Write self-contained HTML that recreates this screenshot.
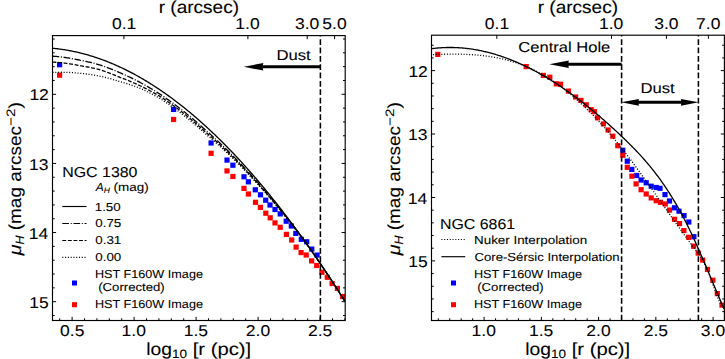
<!DOCTYPE html><html><head><meta charset="utf-8"><style>html,body{margin:0;padding:0;background:#fff;overflow:hidden}svg{display:block}text{font-family:"Liberation Sans",sans-serif;white-space:pre;text-rendering:geometricPrecision;stroke:#000;stroke-width:0.08px}</style></head><body><svg width="725" height="359" viewBox="0 0 725 359" font-family="Liberation Sans, sans-serif" fill="#000"><defs><clipPath id="c0"><rect x="52.5" y="35.6" width="292.7" height="284.9"/></clipPath><clipPath id="c1"><rect x="431.5" y="35.2" width="292.9" height="285.3"/></clipPath></defs><rect width="725" height="359" fill="#fff"/><g clip-path="url(#c0)"><rect x="57.00" y="62.10" width="5.2" height="5.2" fill="#0000ff"/><rect x="171.00" y="106.80" width="5.2" height="5.2" fill="#0000ff"/><rect x="208.50" y="140.40" width="5.2" height="5.2" fill="#0000ff"/><rect x="224.40" y="157.50" width="5.2" height="5.2" fill="#0000ff"/><rect x="230.30" y="162.60" width="5.2" height="5.2" fill="#0000ff"/><rect x="241.40" y="174.20" width="5.2" height="5.2" fill="#0000ff"/><rect x="245.80" y="179.20" width="5.2" height="5.2" fill="#0000ff"/><rect x="252.70" y="187.20" width="5.2" height="5.2" fill="#0000ff"/><rect x="257.90" y="192.20" width="5.2" height="5.2" fill="#0000ff"/><rect x="263.10" y="197.60" width="5.2" height="5.2" fill="#0000ff"/><rect x="267.40" y="202.40" width="5.2" height="5.2" fill="#0000ff"/><rect x="272.40" y="206.90" width="5.2" height="5.2" fill="#0000ff"/><rect x="277.60" y="211.30" width="5.2" height="5.2" fill="#0000ff"/><rect x="283.60" y="218.60" width="5.2" height="5.2" fill="#0000ff"/><rect x="288.70" y="223.40" width="5.2" height="5.2" fill="#0000ff"/><rect x="293.20" y="230.80" width="5.2" height="5.2" fill="#0000ff"/><rect x="298.70" y="236.70" width="5.2" height="5.2" fill="#0000ff"/><rect x="304.10" y="239.20" width="5.2" height="5.2" fill="#0000ff"/><rect x="309.20" y="246.50" width="5.2" height="5.2" fill="#0000ff"/><rect x="314.50" y="252.50" width="5.2" height="5.2" fill="#0000ff"/><rect x="57.00" y="72.60" width="5.2" height="5.2" fill="#ff0000"/><rect x="171.00" y="116.90" width="5.2" height="5.2" fill="#ff0000"/><rect x="208.50" y="150.70" width="5.2" height="5.2" fill="#ff0000"/><rect x="224.40" y="168.30" width="5.2" height="5.2" fill="#ff0000"/><rect x="230.30" y="173.90" width="5.2" height="5.2" fill="#ff0000"/><rect x="241.40" y="185.80" width="5.2" height="5.2" fill="#ff0000"/><rect x="245.80" y="191.40" width="5.2" height="5.2" fill="#ff0000"/><rect x="252.90" y="199.70" width="5.2" height="5.2" fill="#ff0000"/><rect x="257.80" y="204.80" width="5.2" height="5.2" fill="#ff0000"/><rect x="263.20" y="210.60" width="5.2" height="5.2" fill="#ff0000"/><rect x="267.60" y="215.20" width="5.2" height="5.2" fill="#ff0000"/><rect x="272.40" y="220.30" width="5.2" height="5.2" fill="#ff0000"/><rect x="277.60" y="224.70" width="5.2" height="5.2" fill="#ff0000"/><rect x="283.80" y="231.80" width="5.2" height="5.2" fill="#ff0000"/><rect x="289.10" y="237.40" width="5.2" height="5.2" fill="#ff0000"/><rect x="293.50" y="244.50" width="5.2" height="5.2" fill="#ff0000"/><rect x="298.50" y="250.00" width="5.2" height="5.2" fill="#ff0000"/><rect x="303.60" y="252.40" width="5.2" height="5.2" fill="#ff0000"/><rect x="309.00" y="258.30" width="5.2" height="5.2" fill="#ff0000"/><rect x="314.10" y="262.90" width="5.2" height="5.2" fill="#ff0000"/><rect x="319.30" y="269.70" width="5.2" height="5.2" fill="#ff0000"/><rect x="324.70" y="274.70" width="5.2" height="5.2" fill="#ff0000"/><rect x="329.50" y="280.90" width="5.2" height="5.2" fill="#ff0000"/><rect x="334.80" y="285.80" width="5.2" height="5.2" fill="#ff0000"/><rect x="339.90" y="293.90" width="5.2" height="5.2" fill="#ff0000"/><polyline points="52.50,72.46 53.48,72.41 54.46,72.38 55.43,72.35 56.41,72.32 57.39,72.30 58.37,72.28 59.35,72.27 60.33,72.27 61.30,72.27 62.28,72.27 63.26,72.28 64.24,72.30 65.22,72.32 66.20,72.35 67.17,72.38 68.15,72.42 69.13,72.46 70.11,72.51 71.09,72.56 72.07,72.62 73.04,72.68 74.02,72.75 75.00,72.83 75.98,72.91 76.96,72.99 77.93,73.08 78.91,73.18 79.89,73.28 80.87,73.37 81.85,73.47 82.83,73.57 83.80,73.67 84.78,73.78 85.76,73.90 86.74,74.02 87.72,74.15 88.70,74.28 89.67,74.42 90.65,74.56 91.63,74.71 92.61,74.86 93.59,75.02 94.57,75.18 95.54,75.35 96.52,75.53 97.50,75.71 98.48,75.89 99.46,76.08 100.43,76.28 101.41,76.50 102.39,76.73 103.37,76.96 104.35,77.19 105.33,77.44 106.30,77.68 107.28,77.93 108.26,78.19 109.24,78.45 110.22,78.72 111.20,78.99 112.17,79.27 113.15,79.55 114.13,79.83 115.11,80.13 116.09,80.42 117.07,80.73 118.04,81.04 119.02,81.35 120.00,81.67 120.98,81.94 121.96,82.21 122.93,82.49 123.91,82.78 124.89,83.07 125.87,83.36 126.85,83.66 127.83,83.97 128.80,84.28 129.78,84.60 130.76,84.92 131.74,85.24 132.72,85.58 133.70,85.91 134.67,86.25 135.65,86.60 136.63,86.95 137.61,87.31 138.59,87.67 139.57,88.04 140.54,88.45 141.52,88.91 142.50,89.37 143.48,89.84 144.46,90.31 145.43,90.78 146.41,91.26 147.39,91.75 148.37,92.24 149.35,92.74 150.33,93.24 151.30,93.75 152.28,94.26 153.26,94.77 154.24,95.30 155.22,95.82 156.20,96.35 157.17,96.89 158.15,97.43 159.13,97.98 160.11,98.54 161.09,99.18 162.07,99.83 163.04,100.48 164.02,101.13 165.00,101.80 165.98,102.46 166.96,103.13 167.93,103.81 168.91,104.49 169.89,105.18 170.87,105.87 171.85,106.56 172.83,107.26 173.80,107.97 174.78,108.68 175.76,109.40 176.74,110.12 177.72,110.85 178.70,111.58 179.67,112.31 180.65,113.05 181.63,113.80 182.61,114.55 183.59,115.31 184.57,116.07 185.54,116.84 186.52,117.63 187.50,118.41 188.48,119.21 189.46,120.01 190.43,120.81 191.41,121.62 192.39,122.44 193.37,123.26 194.35,124.08 195.33,124.91 196.30,125.74 197.28,126.58 198.26,127.42 199.24,128.27 200.22,129.13 201.20,129.99 202.17,130.85 203.15,131.72 204.13,132.59 205.11,133.46 206.09,134.27 207.07,135.09 208.04,135.92 209.02,136.75 210.00,137.58 210.98,138.42 211.96,139.26 212.93,140.11 213.91,140.97 214.89,141.82 215.87,142.69 216.85,143.56 217.83,144.43 218.80,145.31 219.78,146.19 220.76,147.08 221.74,147.97 222.72,148.87 223.70,149.77 224.67,150.67 225.65,151.59 226.63,152.50 227.61,153.42 228.59,154.35 229.57,155.28 230.54,156.22 231.52,157.16 232.50,158.11 233.48,159.07 234.46,160.03 235.43,160.99 236.41,161.96 237.39,162.94 238.37,163.92 239.35,164.90 240.33,165.89 241.30,166.88 242.28,167.88 243.26,168.88 244.24,169.89 245.22,170.90 246.20,171.92 247.17,172.94 248.15,173.97 249.13,175.00 250.11,176.04 251.09,177.08 252.07,178.12 253.04,179.17 254.02,180.23 255.00,181.29 255.98,182.35 256.96,183.42 257.93,184.50 258.91,185.58 259.89,186.66 260.87,187.75 261.85,188.84 262.83,189.94 263.80,191.04 264.78,192.15 265.76,193.26 266.74,194.38 267.72,195.50 268.70,196.63 269.67,197.76 270.65,198.89 271.63,200.03 272.61,201.18 273.59,202.33 274.57,203.48 275.54,204.64 276.52,205.80 277.50,206.97 278.48,208.14 279.46,209.32 280.43,210.50 281.41,211.69 282.39,212.88 283.37,214.08 284.35,215.28 285.33,216.48 286.30,217.69 287.28,218.91 288.26,220.13 289.24,221.35 290.22,222.58 291.20,223.82 292.17,225.07 293.15,226.32 294.13,227.58 295.11,228.84 296.09,230.11 297.07,231.38 298.04,232.65 299.02,233.93 300.00,235.22 300.98,236.51 301.96,237.80 302.93,239.10 303.91,240.40 304.89,241.71 305.87,243.02 306.85,244.34 307.83,245.66 308.80,246.98 309.78,248.31 310.76,249.70 311.74,251.10 312.72,252.51 313.70,253.92 314.67,255.34 315.65,256.76 316.63,258.18 317.61,259.61 318.59,261.05 319.57,262.49 320.54,263.93 321.52,265.38 322.50,266.83 323.48,268.29 324.46,269.75 325.43,271.22 326.41,272.69 327.39,274.16 328.37,275.64 329.35,277.13 330.33,278.62 331.30,280.11 332.28,281.61 333.26,283.11 334.24,284.62 335.22,286.13 336.20,287.65 337.17,289.17 338.15,290.69 339.13,292.22 340.11,293.75 341.09,295.29 342.07,296.84 343.04,298.38 344.02,299.93 345.00,301.49" fill="none" stroke="#000" stroke-width="1.3" stroke-dasharray="1.05,1.73"/><polyline points="52.50,62.06 53.48,62.11 54.46,62.18 55.43,62.24 56.41,62.32 57.39,62.40 58.37,62.48 59.35,62.57 60.33,62.66 61.30,62.76 62.28,62.87 63.26,62.98 64.24,63.09 65.22,63.21 66.20,63.34 67.17,63.47 68.15,63.61 69.13,63.75 70.11,63.90 71.09,64.05 72.07,64.21 73.04,64.37 74.02,64.54 75.00,64.72 75.98,64.90 76.96,65.08 77.93,65.27 78.91,65.47 79.89,65.67 80.87,65.82 81.85,65.98 82.83,66.14 83.80,66.30 84.78,66.47 85.76,66.65 86.74,66.83 87.72,67.01 88.70,67.20 89.67,67.40 90.65,67.60 91.63,67.81 92.61,68.02 93.59,68.24 94.57,68.46 95.54,68.69 96.52,68.92 97.50,69.16 98.48,69.40 99.46,69.65 100.43,69.93 101.41,70.25 102.39,70.58 103.37,70.91 104.35,71.25 105.33,71.59 106.30,71.94 107.28,72.30 108.26,72.66 109.24,73.02 110.22,73.39 111.20,73.76 112.17,74.14 113.15,74.53 114.13,74.92 115.11,75.31 116.09,75.71 117.07,76.12 118.04,76.53 119.02,76.95 120.00,77.37 120.98,77.73 121.96,78.09 122.93,78.46 123.91,78.83 124.89,79.21 125.87,79.59 126.85,79.98 127.83,80.37 128.80,80.77 129.78,81.18 130.76,81.59 131.74,82.00 132.72,82.42 133.70,82.84 134.67,83.27 135.65,83.71 136.63,84.15 137.61,84.59 138.59,85.04 139.57,85.50 140.54,85.97 141.52,86.44 142.50,86.92 143.48,87.41 144.46,87.90 145.43,88.39 146.41,88.89 147.39,89.40 148.37,89.91 149.35,90.43 150.33,90.95 151.30,91.47 152.28,92.00 153.26,92.54 154.24,93.08 155.22,93.63 156.20,94.18 157.17,94.73 158.15,95.30 159.13,95.86 160.11,96.44 161.09,97.09 162.07,97.74 163.04,98.39 164.02,99.05 165.00,99.72 165.98,100.39 166.96,101.06 167.93,101.74 168.91,102.43 169.89,103.12 170.87,103.81 171.85,104.51 172.83,105.22 173.80,105.93 174.78,106.64 175.76,107.36 176.74,108.09 177.72,108.82 178.70,109.55 179.67,110.29 180.65,111.04 181.63,111.79 182.61,112.54 183.59,113.30 184.57,114.07 185.54,114.85 186.52,115.64 187.50,116.44 188.48,117.24 189.46,118.05 190.43,118.87 191.41,119.69 192.39,120.51 193.37,121.34 194.35,122.17 195.33,123.01 196.30,123.86 197.28,124.70 198.26,125.56 199.24,126.42 200.22,127.28 201.20,128.15 202.17,129.02 203.15,129.90 204.13,130.78 205.11,131.66 206.09,132.50 207.07,133.34 208.04,134.18 209.02,135.03 210.00,135.88 210.98,136.74 211.96,137.60 212.93,138.47 213.91,139.34 214.89,140.22 215.87,141.10 216.85,141.99 217.83,142.88 218.80,143.78 219.78,144.68 220.76,145.59 221.74,146.50 222.72,147.42 223.70,148.34 224.67,149.27 225.65,150.20 226.63,151.13 227.61,152.08 228.59,153.02 229.57,153.97 230.54,154.93 231.52,155.89 232.50,156.86 233.48,157.84 234.46,158.82 235.43,159.80 236.41,160.79 237.39,161.79 238.37,162.78 239.35,163.79 240.33,164.80 241.30,165.81 242.28,166.83 243.26,167.85 244.24,168.88 245.22,169.91 246.20,170.94 247.17,171.99 248.15,173.03 249.13,174.08 250.11,175.14 251.09,176.19 252.07,177.26 253.04,178.32 254.02,179.39 255.00,180.47 255.98,181.54 256.96,182.63 257.93,183.72 258.91,184.81 259.89,185.91 260.87,187.01 261.85,188.12 262.83,189.23 263.80,190.35 264.78,191.47 265.76,192.60 266.74,193.73 267.72,194.87 268.70,196.01 269.67,197.15 270.65,198.30 271.63,199.46 272.61,200.62 273.59,201.78 274.57,202.95 275.54,204.12 276.52,205.30 277.50,206.48 278.48,207.67 279.46,208.86 280.43,210.06 281.41,211.26 282.39,212.47 283.37,213.68 284.35,214.89 285.33,216.11 286.30,217.34 287.28,218.57 288.26,219.80 289.24,221.04 290.22,222.28 291.20,223.54 292.17,224.80 293.15,226.07 294.13,227.34 295.11,228.62 296.09,229.90 297.07,231.18 298.04,232.47 299.02,233.77 300.00,235.07 300.98,236.37 301.96,237.68 302.93,238.99 303.91,240.31 304.89,241.63 305.87,242.96 306.85,244.29 307.83,245.63 308.80,246.97 309.78,248.31 310.76,249.70 311.74,251.10 312.72,252.51 313.70,253.92 314.67,255.34 315.65,256.76 316.63,258.18 317.61,259.61 318.59,261.05 319.57,262.49 320.54,263.93 321.52,265.38 322.50,266.83 323.48,268.29 324.46,269.75 325.43,271.22 326.41,272.69 327.39,274.16 328.37,275.64 329.35,277.13 330.33,278.62 331.30,280.11 332.28,281.61 333.26,283.11 334.24,284.62 335.22,286.13 336.20,287.65 337.17,289.17 338.15,290.69 339.13,292.22 340.11,293.75 341.09,295.29 342.07,296.84 343.04,298.38 344.02,299.93 345.00,301.49" fill="none" stroke="#000" stroke-width="1.3" stroke-dasharray="3.9,1.68"/><polyline points="52.50,56.16 53.48,56.23 54.46,56.30 55.43,56.39 56.41,56.47 57.39,56.57 58.37,56.66 59.35,56.77 60.33,56.88 61.30,56.99 62.28,57.11 63.26,57.23 64.24,57.36 65.22,57.50 66.20,57.64 67.17,57.79 68.15,57.94 69.13,58.09 70.11,58.26 71.09,58.42 72.07,58.60 73.04,58.77 74.02,58.96 75.00,59.15 75.98,59.34 76.96,59.54 77.93,59.74 78.91,59.95 79.89,60.17 80.87,60.35 81.85,60.54 82.83,60.74 83.80,60.93 84.78,61.14 85.76,61.35 86.74,61.56 87.72,61.78 88.70,62.01 89.67,62.24 90.65,62.47 91.63,62.71 92.61,62.96 93.59,63.21 94.57,63.47 95.54,63.73 96.52,64.00 97.50,64.27 98.48,64.55 99.46,64.83 100.43,65.13 101.41,65.47 102.39,65.80 103.37,66.15 104.35,66.49 105.33,66.85 106.30,67.21 107.28,67.57 108.26,67.94 109.24,68.31 110.22,68.69 111.20,69.08 112.17,69.47 113.15,69.86 114.13,70.26 115.11,70.66 116.09,71.07 117.07,71.49 118.04,71.91 119.02,72.34 120.00,72.77 120.98,73.19 121.96,73.62 122.93,74.05 123.91,74.48 124.89,74.93 125.87,75.37 126.85,75.83 127.83,76.28 128.80,76.75 129.78,77.21 130.76,77.69 131.74,78.16 132.72,78.65 133.70,79.13 134.67,79.63 135.65,80.13 136.63,80.63 137.61,81.14 138.59,81.65 139.57,82.17 140.54,82.70 141.52,83.22 142.50,83.76 143.48,84.30 144.46,84.84 145.43,85.39 146.41,85.95 147.39,86.50 148.37,87.07 149.35,87.64 150.33,88.21 151.30,88.79 152.28,89.38 153.26,89.97 154.24,90.56 155.22,91.16 156.20,91.77 157.17,92.38 158.15,92.99 159.13,93.61 160.11,94.24 161.09,94.89 162.07,95.55 163.04,96.21 164.02,96.88 165.00,97.56 165.98,98.23 166.96,98.92 167.93,99.60 168.91,100.30 169.89,101.00 170.87,101.70 171.85,102.41 172.83,103.12 173.80,103.84 174.78,104.56 175.76,105.29 176.74,106.02 177.72,106.76 178.70,107.50 179.67,108.25 180.65,109.00 181.63,109.76 182.61,110.52 183.59,111.29 184.57,112.06 185.54,112.85 186.52,113.64 187.50,114.44 188.48,115.24 189.46,116.05 190.43,116.87 191.41,117.69 192.39,118.51 193.37,119.34 194.35,120.17 195.33,121.01 196.30,121.86 197.28,122.70 198.26,123.56 199.24,124.42 200.22,125.28 201.20,126.15 202.17,127.02 203.15,127.90 204.13,128.78 205.11,129.66 206.09,130.52 207.07,131.38 208.04,132.24 209.02,133.11 210.00,133.98 210.98,134.86 211.96,135.74 212.93,136.63 213.91,137.52 214.89,138.42 215.87,139.32 216.85,140.23 217.83,141.14 218.80,142.06 219.78,142.98 220.76,143.91 221.74,144.84 222.72,145.77 223.70,146.72 224.67,147.66 225.65,148.61 226.63,149.57 227.61,150.53 228.59,151.49 229.57,152.46 230.54,153.44 231.52,154.42 232.50,155.40 233.48,156.39 234.46,157.39 235.43,158.38 236.41,159.39 237.39,160.40 238.37,161.41 239.35,162.43 240.33,163.45 241.30,164.48 242.28,165.51 243.26,166.55 244.24,167.59 245.22,168.64 246.20,169.69 247.17,170.74 248.15,171.81 249.13,172.87 250.11,173.94 251.09,175.02 252.07,176.10 253.04,177.18 254.02,178.27 255.00,179.37 255.98,180.46 256.96,181.57 257.93,182.68 258.91,183.79 259.89,184.91 260.87,186.03 261.85,187.16 262.83,188.29 263.80,189.43 264.78,190.57 265.76,191.71 266.74,192.86 267.72,194.02 268.70,195.18 269.67,196.34 270.65,197.51 271.63,198.69 272.61,199.87 273.59,201.05 274.57,202.24 275.54,203.43 276.52,204.63 277.50,205.83 278.48,207.04 279.46,208.25 280.43,209.47 281.41,210.69 282.39,211.91 283.37,213.14 284.35,214.38 285.33,215.62 286.30,216.86 287.28,218.11 288.26,219.37 289.24,220.62 290.22,221.89 291.20,223.17 292.17,224.45 293.15,225.73 294.13,227.03 295.11,228.32 296.09,229.62 297.07,230.93 298.04,232.24 299.02,233.55 300.00,234.87 300.98,236.19 301.96,237.52 302.93,238.85 303.91,240.19 304.89,241.53 305.87,242.88 306.85,244.23 307.83,245.58 308.80,246.94 309.78,248.31 310.76,249.70 311.74,251.10 312.72,252.51 313.70,253.92 314.67,255.34 315.65,256.76 316.63,258.18 317.61,259.61 318.59,261.05 319.57,262.49 320.54,263.93 321.52,265.38 322.50,266.83 323.48,268.29 324.46,269.75 325.43,271.22 326.41,272.69 327.39,274.16 328.37,275.64 329.35,277.13 330.33,278.62 331.30,280.11 332.28,281.61 333.26,283.11 334.24,284.62 335.22,286.13 336.20,287.65 337.17,289.17 338.15,290.69 339.13,292.22 340.11,293.75 341.09,295.29 342.07,296.84 343.04,298.38 344.02,299.93 345.00,301.49" fill="none" stroke="#000" stroke-width="1.3" stroke-dasharray="6.7,1.68,1.05,1.68"/><polyline points="52.50,48.26 53.48,48.35 54.46,48.45 55.43,48.55 56.41,48.66 57.39,48.77 58.37,48.89 59.35,49.02 60.33,49.15 61.30,49.28 62.28,49.42 63.26,49.57 64.24,49.72 65.22,49.88 66.20,50.04 67.17,50.21 68.15,50.38 69.13,50.56 70.11,50.74 71.09,50.93 72.07,51.12 73.04,51.32 74.02,51.53 75.00,51.74 75.98,51.95 76.96,52.17 77.93,52.40 78.91,52.63 79.89,52.86 80.87,53.11 81.85,53.35 82.83,53.61 83.80,53.86 84.78,54.13 85.76,54.39 86.74,54.67 87.72,54.94 88.70,55.23 89.67,55.52 90.65,55.81 91.63,56.11 92.61,56.42 93.59,56.73 94.57,57.04 95.54,57.36 96.52,57.69 97.50,58.02 98.48,58.35 99.46,58.70 100.43,59.04 101.41,59.39 102.39,59.75 103.37,60.11 104.35,60.48 105.33,60.85 106.30,61.23 107.28,61.62 108.26,62.00 109.24,62.40 110.22,62.80 111.20,63.20 112.17,63.61 113.15,64.02 114.13,64.44 115.11,64.87 116.09,65.30 117.07,65.73 118.04,66.17 119.02,66.62 120.00,67.07 120.98,67.52 121.96,67.98 122.93,68.45 123.91,68.92 124.89,69.40 125.87,69.88 126.85,70.36 127.83,70.86 128.80,71.35 129.78,71.86 130.76,72.36 131.74,72.87 132.72,73.39 133.70,73.91 134.67,74.44 135.65,74.97 136.63,75.51 137.61,76.05 138.59,76.60 139.57,77.16 140.54,77.71 141.52,78.28 142.50,78.85 143.48,79.42 144.46,80.00 145.43,80.58 146.41,81.17 147.39,81.76 148.37,82.36 149.35,82.97 150.33,83.58 151.30,84.19 152.28,84.81 153.26,85.43 154.24,86.06 155.22,86.70 156.20,87.34 157.17,87.98 158.15,88.63 159.13,89.28 160.11,89.94 161.09,90.61 162.07,91.28 163.04,91.95 164.02,92.63 165.00,93.32 165.98,94.01 166.96,94.70 167.93,95.40 168.91,96.10 169.89,96.81 170.87,97.53 171.85,98.25 172.83,98.97 173.80,99.70 174.78,100.44 175.76,101.18 176.74,101.92 177.72,102.67 178.70,103.43 179.67,104.18 180.65,104.95 181.63,105.72 182.61,106.49 183.59,107.27 184.57,108.06 185.54,108.85 186.52,109.64 187.50,110.44 188.48,111.24 189.46,112.05 190.43,112.87 191.41,113.69 192.39,114.51 193.37,115.34 194.35,116.17 195.33,117.01 196.30,117.86 197.28,118.70 198.26,119.56 199.24,120.42 200.22,121.28 201.20,122.15 202.17,123.02 203.15,123.90 204.13,124.78 205.11,125.67 206.09,126.56 207.07,127.46 208.04,128.36 209.02,129.27 210.00,130.18 210.98,131.10 211.96,132.02 212.93,132.95 213.91,133.88 214.89,134.82 215.87,135.76 216.85,136.70 217.83,137.65 218.80,138.61 219.78,139.57 220.76,140.54 221.74,141.51 222.72,142.48 223.70,143.46 224.67,144.45 225.65,145.44 226.63,146.43 227.61,147.43 228.59,148.44 229.57,149.45 230.54,150.46 231.52,151.48 232.50,152.50 233.48,153.53 234.46,154.56 235.43,155.60 236.41,156.64 237.39,157.69 238.37,158.74 239.35,159.80 240.33,160.86 241.30,161.93 242.28,163.00 243.26,164.08 244.24,165.16 245.22,166.25 246.20,167.34 247.17,168.43 248.15,169.53 249.13,170.64 250.11,171.75 251.09,172.86 252.07,173.98 253.04,175.10 254.02,176.23 255.00,177.37 255.98,178.50 256.96,179.65 257.93,180.79 258.91,181.95 259.89,183.10 260.87,184.26 261.85,185.43 262.83,186.60 263.80,187.78 264.78,188.96 265.76,190.14 266.74,191.33 267.72,192.53 268.70,193.73 269.67,194.93 270.65,196.14 271.63,197.35 272.61,198.57 273.59,199.79 274.57,201.02 275.54,202.25 276.52,203.49 277.50,204.73 278.48,205.98 279.46,207.23 280.43,208.49 281.41,209.75 282.39,211.01 283.37,212.28 284.35,213.55 285.33,214.83 286.30,216.12 287.28,217.40 288.26,218.70 289.24,219.99 290.22,221.30 291.20,222.60 292.17,223.91 293.15,225.23 294.13,226.55 295.11,227.87 296.09,229.20 297.07,230.54 298.04,231.88 299.02,233.22 300.00,234.57 300.98,235.92 301.96,237.28 302.93,238.64 303.91,240.01 304.89,241.38 305.87,242.75 306.85,244.13 307.83,245.52 308.80,246.91 309.78,248.30 310.76,249.70 311.74,251.10 312.72,252.51 313.70,253.92 314.67,255.34 315.65,256.76 316.63,258.18 317.61,259.61 318.59,261.05 319.57,262.49 320.54,263.93 321.52,265.38 322.50,266.83 323.48,268.29 324.46,269.75 325.43,271.22 326.41,272.69 327.39,274.16 328.37,275.64 329.35,277.13 330.33,278.62 331.30,280.11 332.28,281.61 333.26,283.11 334.24,284.62 335.22,286.13 336.20,287.65 337.17,289.17 338.15,290.69 339.13,292.22 340.11,293.75 341.09,295.29 342.07,296.84 343.04,298.38 344.02,299.93 345.00,301.49" fill="none" stroke="#000" stroke-width="1.3"/></g><g clip-path="url(#c1)"><rect x="620.20" y="147.70" width="5.2" height="5.2" fill="#0000ff"/><rect x="624.70" y="158.60" width="5.2" height="5.2" fill="#0000ff"/><rect x="629.20" y="166.80" width="5.2" height="5.2" fill="#0000ff"/><rect x="634.10" y="172.90" width="5.2" height="5.2" fill="#0000ff"/><rect x="638.50" y="177.40" width="5.2" height="5.2" fill="#0000ff"/><rect x="643.60" y="180.20" width="5.2" height="5.2" fill="#0000ff"/><rect x="648.60" y="183.60" width="5.2" height="5.2" fill="#0000ff"/><rect x="653.60" y="184.90" width="5.2" height="5.2" fill="#0000ff"/><rect x="657.40" y="185.70" width="5.2" height="5.2" fill="#0000ff"/><rect x="662.40" y="192.00" width="5.2" height="5.2" fill="#0000ff"/><rect x="666.90" y="198.40" width="5.2" height="5.2" fill="#0000ff"/><rect x="671.90" y="205.20" width="5.2" height="5.2" fill="#0000ff"/><rect x="676.40" y="208.60" width="5.2" height="5.2" fill="#0000ff"/><rect x="681.40" y="213.00" width="5.2" height="5.2" fill="#0000ff"/><rect x="686.20" y="219.40" width="5.2" height="5.2" fill="#0000ff"/><rect x="691.30" y="234.10" width="5.2" height="5.2" fill="#0000ff"/><rect x="435.20" y="51.80" width="5.2" height="5.2" fill="#ff0000"/><rect x="523.60" y="64.00" width="5.2" height="5.2" fill="#ff0000"/><rect x="540.80" y="72.80" width="5.2" height="5.2" fill="#ff0000"/><rect x="547.20" y="74.60" width="5.2" height="5.2" fill="#ff0000"/><rect x="553.70" y="81.20" width="5.2" height="5.2" fill="#ff0000"/><rect x="558.00" y="81.70" width="5.2" height="5.2" fill="#ff0000"/><rect x="565.80" y="88.50" width="5.2" height="5.2" fill="#ff0000"/><rect x="573.00" y="94.40" width="5.2" height="5.2" fill="#ff0000"/><rect x="578.30" y="97.80" width="5.2" height="5.2" fill="#ff0000"/><rect x="583.60" y="102.20" width="5.2" height="5.2" fill="#ff0000"/><rect x="588.60" y="107.10" width="5.2" height="5.2" fill="#ff0000"/><rect x="591.90" y="109.10" width="5.2" height="5.2" fill="#ff0000"/><rect x="594.90" y="115.20" width="5.2" height="5.2" fill="#ff0000"/><rect x="600.80" y="121.30" width="5.2" height="5.2" fill="#ff0000"/><rect x="605.50" y="127.40" width="5.2" height="5.2" fill="#ff0000"/><rect x="610.20" y="133.60" width="5.2" height="5.2" fill="#ff0000"/><rect x="615.20" y="143.10" width="5.2" height="5.2" fill="#ff0000"/><rect x="620.20" y="152.70" width="5.2" height="5.2" fill="#ff0000"/><rect x="624.70" y="164.70" width="5.2" height="5.2" fill="#ff0000"/><rect x="629.30" y="173.60" width="5.2" height="5.2" fill="#ff0000"/><rect x="633.50" y="181.30" width="5.2" height="5.2" fill="#ff0000"/><rect x="638.50" y="187.10" width="5.2" height="5.2" fill="#ff0000"/><rect x="643.60" y="191.40" width="5.2" height="5.2" fill="#ff0000"/><rect x="648.60" y="195.30" width="5.2" height="5.2" fill="#ff0000"/><rect x="653.60" y="198.10" width="5.2" height="5.2" fill="#ff0000"/><rect x="657.90" y="199.70" width="5.2" height="5.2" fill="#ff0000"/><rect x="662.70" y="201.40" width="5.2" height="5.2" fill="#ff0000"/><rect x="666.90" y="207.50" width="5.2" height="5.2" fill="#ff0000"/><rect x="671.90" y="216.70" width="5.2" height="5.2" fill="#ff0000"/><rect x="676.90" y="221.00" width="5.2" height="5.2" fill="#ff0000"/><rect x="681.30" y="228.00" width="5.2" height="5.2" fill="#ff0000"/><rect x="686.10" y="234.70" width="5.2" height="5.2" fill="#ff0000"/><rect x="691.00" y="243.60" width="5.2" height="5.2" fill="#ff0000"/><rect x="695.60" y="250.50" width="5.2" height="5.2" fill="#ff0000"/><rect x="700.10" y="257.50" width="5.2" height="5.2" fill="#ff0000"/><rect x="704.90" y="266.80" width="5.2" height="5.2" fill="#ff0000"/><rect x="710.20" y="277.60" width="5.2" height="5.2" fill="#ff0000"/><rect x="714.70" y="291.00" width="5.2" height="5.2" fill="#ff0000"/><rect x="719.40" y="302.50" width="5.2" height="5.2" fill="#ff0000"/><polyline points="433.00,54.58 433.91,54.55 434.82,54.52 435.74,54.48 436.65,54.45 437.56,54.42 438.47,54.39 439.39,54.37 440.30,54.34 441.21,54.31 442.12,54.29 443.03,54.27 443.95,54.25 444.86,54.23 445.77,54.21 446.68,54.19 447.60,54.18 448.51,54.17 449.42,54.16 450.33,54.15 451.24,54.14 452.16,54.14 453.07,54.13 453.98,54.13 454.89,54.13 455.81,54.14 456.72,54.15 457.63,54.15 458.54,54.17 459.45,54.18 460.37,54.20 461.28,54.22 462.19,54.24 463.10,54.27 464.02,54.29 464.93,54.32 465.84,54.36 466.75,54.40 467.66,54.44 468.58,54.48 469.49,54.53 470.40,54.58 471.31,54.63 472.23,54.69 473.14,54.75 474.05,54.81 474.96,54.88 475.87,54.95 476.79,55.03 477.70,55.11 478.61,55.19 479.52,55.28 480.44,55.37 481.35,55.46 482.26,55.56 483.17,55.67 484.08,55.78 485.00,55.89 485.91,56.00 486.82,56.13 487.73,56.25 488.65,56.38 489.56,56.52 490.47,56.66 491.38,56.80 492.29,56.95 493.21,57.11 494.12,57.27 495.03,57.43 495.94,57.60 496.86,57.77 497.77,57.95 498.68,58.14 499.59,58.33 500.50,58.53 501.42,58.73 502.33,58.93 503.24,59.15 504.15,59.37 505.07,59.59 505.98,59.82 506.89,60.06 507.80,60.30 508.71,60.55 509.63,60.80 510.54,61.06 511.45,61.33 512.36,61.60 513.28,61.88 514.19,62.16 515.10,62.45 516.01,62.75 516.92,63.06 517.84,63.37 518.75,63.68 519.66,64.01 520.57,64.34 521.49,64.68 522.40,65.02 523.31,65.38 524.22,65.74 525.13,66.10 526.05,66.48 526.96,66.86 527.87,67.25 528.78,67.64 529.70,68.04 530.61,68.46 531.52,68.87 532.43,69.30 533.34,69.73 534.26,70.17 535.17,70.62 536.08,71.08 536.99,71.55 537.91,72.02 538.82,72.50 539.73,72.99 540.64,73.49 541.55,73.99 542.47,74.51 543.38,75.03 544.29,75.56 545.20,76.10 546.12,76.64 547.03,77.20 547.94,77.76 548.85,78.33 549.76,78.91 550.68,79.50 551.59,80.09 552.50,80.70 553.41,81.31 554.33,81.92 555.24,82.55 556.15,83.19 557.06,83.83 557.97,84.48 558.89,85.14 559.80,85.80 560.71,86.48 561.62,87.16 562.54,87.85 563.45,88.54 564.36,89.25 565.27,89.96 566.18,90.68 567.10,91.41 568.01,92.14 568.92,92.89 569.83,93.64 570.75,94.40 571.66,95.16 572.57,95.94 573.48,96.72 574.39,97.51 575.31,98.30 576.22,99.10 577.13,99.92 578.04,100.73 578.96,101.56 579.87,102.39 580.78,103.23 581.69,104.08 582.61,104.94 583.52,105.80 584.43,106.67 585.34,107.55 586.25,108.43 587.17,109.32 588.08,110.22 588.99,111.13 589.90,112.04 590.82,112.96 591.73,113.89 592.64,114.82 593.55,115.76 594.46,116.71 595.38,117.67 596.29,118.63 597.20,119.60 598.11,120.58 599.03,121.56 599.94,122.55 600.85,123.55 601.76,124.56 602.67,125.57 603.59,126.59 604.50,127.61 605.41,128.64 606.32,129.68 607.24,130.73 608.15,131.78 609.06,132.84 609.97,133.91 610.88,134.98 611.80,136.06 612.71,137.15 613.62,138.24 614.53,139.34 615.45,140.45 616.36,141.56 617.27,142.68 618.18,143.80 619.09,144.94 620.01,146.08 620.92,147.22 621.83,148.37 622.74,149.53 623.66,150.70 624.57,151.87 625.48,153.05 626.39,154.23 627.30,155.42 628.22,156.62 629.13,157.82 630.04,159.02 630.95,160.23 631.87,161.45 632.78,162.67 633.69,163.89 634.60,165.12 635.51,166.36 636.43,167.60 637.34,168.84 638.25,170.09 639.16,171.34 640.08,172.59 640.99,173.85 641.90,175.11 642.81,176.38 643.72,177.64 644.64,178.91 645.55,180.19 646.46,181.46 647.37,182.74 648.29,184.02 649.20,185.31 650.11,186.59 651.02,187.88 651.93,189.17 652.85,190.46 653.76,191.75 654.67,193.04 655.58,194.33 656.50,195.63 657.41,196.92 658.32,198.22 659.23,199.52 660.14,200.81 661.06,202.11 661.97,203.41 662.88,204.70 663.79,206.00 664.71,207.30 665.62,208.59 666.53,209.89 667.44,211.18 668.35,212.48 669.27,213.77 670.18,215.06 671.09,216.35 672.00,217.64 672.92,218.92 673.83,220.21 674.74,221.49 675.65,222.77 676.56,224.05 677.48,225.32 678.39,226.59 679.30,227.86 680.21,229.13 681.13,230.39 682.04,231.65 682.95,232.91 683.86,234.16 684.77,235.41 685.69,236.65 686.60,237.90 687.51,239.13 688.42,240.37 689.34,241.59 690.25,242.82 691.16,244.04 692.07,245.25 692.98,246.46 693.90,247.66 694.81,248.86 695.72,250.06 696.63,251.28 697.55,252.52 698.46,253.79 699.37,255.09 700.28,256.45 701.19,257.86 702.11,259.34 703.02,260.90 703.93,262.54 704.84,264.27 705.76,266.11 706.67,268.06 707.58,270.13 708.49,272.33 709.40,274.66 710.32,277.12 711.23,279.67 712.14,282.27 713.05,284.91 713.97,287.54 714.88,290.14 715.79,292.67 716.70,295.11 717.61,297.42 718.53,299.58 719.44,301.54 720.35,303.29 721.26,304.78 722.18,306.00 723.09,306.90 724.00,307.46" fill="none" stroke="#000" stroke-width="1.3" stroke-dasharray="1.05,1.73"/><polyline points="431.30,48.74 432.22,48.62 433.14,48.50 434.05,48.39 434.97,48.29 435.89,48.20 436.81,48.11 437.72,48.02 438.64,47.94 439.56,47.87 440.48,47.81 441.39,47.75 442.31,47.69 443.23,47.65 444.15,47.60 445.06,47.57 445.98,47.54 446.90,47.51 447.82,47.50 448.73,47.49 449.65,47.48 450.57,47.48 451.49,47.49 452.40,47.50 453.32,47.52 454.24,47.54 455.16,47.57 456.07,47.60 456.99,47.65 457.91,47.69 458.83,47.75 459.74,47.80 460.66,47.87 461.58,47.94 462.50,48.02 463.41,48.10 464.33,48.18 465.25,48.28 466.17,48.38 467.08,48.48 468.00,48.59 468.92,48.71 469.84,48.83 470.75,48.96 471.67,49.09 472.59,49.23 473.51,49.37 474.43,49.52 475.34,49.68 476.26,49.84 477.18,50.00 478.10,50.17 479.01,50.35 479.93,50.53 480.85,50.72 481.77,50.92 482.68,51.12 483.60,51.32 484.52,51.53 485.44,51.75 486.35,51.97 487.27,52.19 488.19,52.42 489.11,52.66 490.02,52.90 490.94,53.15 491.86,53.40 492.78,53.66 493.69,53.93 494.61,54.19 495.53,54.47 496.45,54.75 497.36,55.03 498.28,55.32 499.20,55.62 500.12,55.92 501.03,56.22 501.95,56.53 502.87,56.85 503.79,57.17 504.70,57.50 505.62,57.83 506.54,58.16 507.46,58.51 508.37,58.85 509.29,59.20 510.21,59.56 511.13,59.92 512.04,60.29 512.96,60.66 513.88,61.04 514.80,61.42 515.72,61.80 516.63,62.20 517.55,62.59 518.47,62.99 519.39,63.40 520.30,63.81 521.22,64.23 522.14,64.65 523.06,65.07 523.97,65.51 524.89,65.94 525.81,66.38 526.73,66.83 527.64,67.28 528.56,67.73 529.48,68.19 530.40,68.66 531.31,69.12 532.23,69.60 533.15,70.08 534.07,70.56 534.98,71.05 535.90,71.54 536.82,72.04 537.74,72.54 538.65,73.05 539.57,73.56 540.49,74.07 541.41,74.59 542.32,75.12 543.24,75.65 544.16,76.18 545.08,76.72 545.99,77.26 546.91,77.81 547.83,78.36 548.75,78.92 549.66,79.48 550.58,80.05 551.50,80.62 552.42,81.19 553.33,81.77 554.25,82.35 555.17,82.94 556.09,83.53 557.01,84.13 557.92,84.73 558.84,85.34 559.76,85.94 560.68,86.56 561.59,87.18 562.51,87.80 563.43,88.43 564.35,89.06 565.26,89.69 566.18,90.33 567.10,90.97 568.02,91.62 568.93,92.27 569.85,92.93 570.77,93.59 571.69,94.26 572.60,94.92 573.52,95.60 574.44,96.27 575.36,96.95 576.27,97.64 577.19,98.33 578.11,99.02 579.03,99.72 579.94,100.42 580.86,101.13 581.78,101.83 582.70,102.55 583.61,103.27 584.53,103.99 585.45,104.71 586.37,105.44 587.28,106.17 588.20,106.91 589.12,107.65 590.04,108.40 590.95,109.15 591.87,109.90 592.79,110.65 593.71,111.41 594.62,112.18 595.54,112.95 596.46,113.72 597.38,114.49 598.29,115.27 599.21,116.05 600.13,116.84 601.05,117.63 601.97,118.43 602.88,119.22 603.80,120.02 604.72,120.83 605.64,121.64 606.55,122.45 607.47,123.27 608.39,124.09 609.31,124.91 610.22,125.74 611.14,126.57 612.06,127.40 612.98,128.24 613.89,129.08 614.81,129.92 615.73,130.77 616.65,131.62 617.56,132.48 618.48,133.34 619.40,134.20 620.32,135.06 621.23,135.93 622.15,136.80 623.07,137.68 623.99,138.56 624.90,139.44 625.82,140.33 626.74,141.23 627.66,142.12 628.57,143.03 629.49,143.94 630.41,144.85 631.33,145.77 632.24,146.70 633.16,147.64 634.08,148.58 635.00,149.53 635.91,150.48 636.83,151.45 637.75,152.42 638.67,153.40 639.58,154.39 640.50,155.39 641.42,156.40 642.34,157.42 643.26,158.45 644.17,159.49 645.09,160.53 646.01,161.59 646.93,162.66 647.84,163.75 648.76,164.84 649.68,165.94 650.60,167.06 651.51,168.19 652.43,169.33 653.35,170.49 654.27,171.66 655.18,172.84 656.10,174.04 657.02,175.25 657.94,176.47 658.85,177.71 659.77,178.97 660.69,180.24 661.61,181.53 662.52,182.83 663.44,184.14 664.36,185.48 665.28,186.83 666.19,188.20 667.11,189.58 668.03,190.99 668.95,192.41 669.86,193.85 670.78,195.30 671.70,196.78 672.62,198.28 673.53,199.79 674.45,201.32 675.37,202.88 676.29,204.45 677.20,206.05 678.12,207.66 679.04,209.30 679.96,210.95 680.87,212.63 681.79,214.33 682.71,216.06 683.63,217.80 684.55,219.57 685.46,221.36 686.38,223.18 687.30,225.01 688.22,226.88 689.13,228.76 690.05,230.67 690.97,232.59 691.89,234.54 692.80,236.50 693.72,238.49 694.64,240.49 695.56,242.51 696.47,244.54 697.39,246.59 698.31,248.66 699.23,250.74 700.14,252.83 701.06,254.93 701.98,257.04 702.90,259.17 703.81,261.30 704.73,263.44 705.65,265.59 706.57,267.75 707.48,269.91 708.40,272.08 709.32,274.25 710.24,276.43 711.15,278.60 712.07,280.79 712.99,282.97 713.91,285.15 714.82,287.33 715.74,289.51 716.66,291.69 717.58,293.87 718.49,296.04 719.41,298.21 720.33,300.37 721.25,302.53 722.16,304.68 723.08,306.82 724.00,308.95" fill="none" stroke="#000" stroke-width="1.3"/></g><line x1="320.4" y1="320.5" x2="320.4" y2="35" stroke="#000" stroke-width="1.55" stroke-dasharray="5.75,2.6"/><line x1="621.6" y1="320.5" x2="621.6" y2="35" stroke="#000" stroke-width="1.55" stroke-dasharray="5.75,2.6"/><line x1="698.4" y1="320.5" x2="698.4" y2="35" stroke="#000" stroke-width="1.55" stroke-dasharray="5.75,2.6"/><line x1="262.30" y1="66.8" x2="320.4" y2="66.8" stroke="#000" stroke-width="3.0"/><path d="M243.8,66.8 L263.3,63.0 Q262.1,66.8 263.3,70.6 Z" fill="#000"/><line x1="567.80" y1="64.3" x2="621.6" y2="64.3" stroke="#000" stroke-width="3.0"/><path d="M549.3,64.3 L568.8,60.5 Q567.5999999999999,64.3 568.8,68.1 Z" fill="#000"/><line x1="636" y1="102.3" x2="683" y2="102.3" stroke="#000" stroke-width="2.9"/><path d="M621.2,102.3 L638.9000000000001,98.89999999999999 Q637.7,102.3 638.9000000000001,105.7 Z" fill="#000"/><path d="M698.6,102.3 L680.9,98.89999999999999 Q682.1,102.3 680.9,105.7 Z" fill="#000"/><path d="M72.10,320.5v-3.6M134.10,320.5v-3.6M196.10,320.5v-3.6M258.10,320.5v-3.6M320.10,320.5v-3.6M59.70,320.5v-2.2M84.50,320.5v-2.2M96.90,320.5v-2.2M109.30,320.5v-2.2M121.70,320.5v-2.2M146.50,320.5v-2.2M158.90,320.5v-2.2M171.30,320.5v-2.2M183.70,320.5v-2.2M208.50,320.5v-2.2M220.90,320.5v-2.2M233.30,320.5v-2.2M245.70,320.5v-2.2M270.50,320.5v-2.2M282.90,320.5v-2.2M295.30,320.5v-2.2M307.70,320.5v-2.2M332.50,320.5v-2.2M344.90,320.5v-2.2M123.90,35.6v3.6M247.90,35.6v3.6M307.20,35.6v3.6M334.60,35.6v3.6M52.5,94.30h3.6M345.2,94.30h-3.6M52.5,163.43h3.6M345.2,163.43h-3.6M52.5,232.56h3.6M345.2,232.56h-3.6M52.5,301.69h3.6M345.2,301.69h-3.6M52.5,39.00h2.2M345.2,39.00h-2.2M52.5,52.82h2.2M345.2,52.82h-2.2M52.5,66.65h2.2M345.2,66.65h-2.2M52.5,80.47h2.2M345.2,80.47h-2.2M52.5,108.13h2.2M345.2,108.13h-2.2M52.5,121.95h2.2M345.2,121.95h-2.2M52.5,135.78h2.2M345.2,135.78h-2.2M52.5,149.60h2.2M345.2,149.60h-2.2M52.5,177.26h2.2M345.2,177.26h-2.2M52.5,191.08h2.2M345.2,191.08h-2.2M52.5,204.91h2.2M345.2,204.91h-2.2M52.5,218.73h2.2M345.2,218.73h-2.2M52.5,246.39h2.2M345.2,246.39h-2.2M52.5,260.21h2.2M345.2,260.21h-2.2M52.5,274.04h2.2M345.2,274.04h-2.2M52.5,287.86h2.2M345.2,287.86h-2.2M52.5,315.52h2.2M345.2,315.52h-2.2" stroke="#000" stroke-width="1.0" fill="none"/><rect x="52.5" y="35.6" width="292.7" height="284.9" fill="none" stroke="#000" stroke-width="1.15"/><path d="M484.10,320.5v-3.6M541.35,320.5v-3.6M598.60,320.5v-3.6M655.85,320.5v-3.6M713.10,320.5v-3.6M438.30,320.5v-2.2M449.75,320.5v-2.2M461.20,320.5v-2.2M472.65,320.5v-2.2M495.55,320.5v-2.2M507.00,320.5v-2.2M518.45,320.5v-2.2M529.90,320.5v-2.2M552.80,320.5v-2.2M564.25,320.5v-2.2M575.70,320.5v-2.2M587.15,320.5v-2.2M610.05,320.5v-2.2M621.50,320.5v-2.2M632.95,320.5v-2.2M644.40,320.5v-2.2M667.30,320.5v-2.2M678.75,320.5v-2.2M690.20,320.5v-2.2M701.65,320.5v-2.2M496.80,35.2v3.6M611.50,35.2v3.6M666.40,35.2v3.6M708.40,35.2v3.6M431.5,70.60h3.6M724.4,70.60h-3.6M431.5,134.03h3.6M724.4,134.03h-3.6M431.5,197.46h3.6M724.4,197.46h-3.6M431.5,260.89h3.6M724.4,260.89h-3.6M431.5,45.23h2.2M724.4,45.23h-2.2M431.5,57.91h2.2M724.4,57.91h-2.2M431.5,83.29h2.2M724.4,83.29h-2.2M431.5,95.97h2.2M724.4,95.97h-2.2M431.5,108.66h2.2M724.4,108.66h-2.2M431.5,121.34h2.2M724.4,121.34h-2.2M431.5,146.72h2.2M724.4,146.72h-2.2M431.5,159.40h2.2M724.4,159.40h-2.2M431.5,172.09h2.2M724.4,172.09h-2.2M431.5,184.77h2.2M724.4,184.77h-2.2M431.5,210.15h2.2M724.4,210.15h-2.2M431.5,222.83h2.2M724.4,222.83h-2.2M431.5,235.52h2.2M724.4,235.52h-2.2M431.5,248.20h2.2M724.4,248.20h-2.2M431.5,273.58h2.2M724.4,273.58h-2.2M431.5,286.26h2.2M724.4,286.26h-2.2M431.5,298.95h2.2M724.4,298.95h-2.2M431.5,311.63h2.2M724.4,311.63h-2.2" stroke="#000" stroke-width="1.0" fill="none"/><rect x="431.5" y="35.2" width="292.9" height="285.3" fill="none" stroke="#000" stroke-width="1.15"/><polyline points="62.30,206.50 86.50,206.50" fill="none" stroke="#000" stroke-width="1.15"/><polyline points="62.30,223.50 86.50,223.50" fill="none" stroke="#000" stroke-width="1.15" stroke-dasharray="6.7,1.68,1.05,1.68"/><polyline points="62.30,240.50 86.50,240.50" fill="none" stroke="#000" stroke-width="1.15" stroke-dasharray="3.9,1.68"/><polyline points="62.30,257.30 86.50,257.30" fill="none" stroke="#000" stroke-width="1.15" stroke-dasharray="1.05,1.73"/><rect x="72.00" y="280.50" width="5.0" height="5.0" fill="#0000ff"/><rect x="72.00" y="302.20" width="5.0" height="5.0" fill="#ff0000"/><rect x="451.00" y="280.50" width="5.0" height="5.0" fill="#0000ff"/><rect x="451.00" y="302.20" width="5.0" height="5.0" fill="#ff0000"/><polyline points="441.40,239.50 465.20,239.50" fill="none" stroke="#000" stroke-width="1.15" stroke-dasharray="1.05,1.73"/><polyline points="441.40,256.70 465.20,256.70" fill="none" stroke="#000" stroke-width="1.15"/><text x="60.09" y="335.90" font-size="15.76" textLength="24.33" lengthAdjust="spacingAndGlyphs">0.5</text><text x="121.59" y="335.90" font-size="15.76" textLength="24.33" lengthAdjust="spacingAndGlyphs">1.0</text><text x="183.75" y="335.90" font-size="15.76" textLength="24.33" lengthAdjust="spacingAndGlyphs">1.5</text><text x="245.86" y="335.90" font-size="15.76" textLength="24.33" lengthAdjust="spacingAndGlyphs">2.0</text><text x="308.01" y="335.90" font-size="15.76" textLength="24.33" lengthAdjust="spacingAndGlyphs">2.5</text><text x="111.93" y="29.00" font-size="15.76" textLength="24.33" lengthAdjust="spacingAndGlyphs">0.1</text><text x="235.39" y="29.00" font-size="15.76" textLength="24.33" lengthAdjust="spacingAndGlyphs">1.0</text><text x="294.96" y="29.00" font-size="15.76" textLength="24.33" lengthAdjust="spacingAndGlyphs">3.0</text><text x="322.36" y="29.00" font-size="15.76" textLength="24.33" lengthAdjust="spacingAndGlyphs">5.0</text><text x="29.40" y="100.40" font-size="15.76" textLength="19.47" lengthAdjust="spacingAndGlyphs">12</text><text x="29.09" y="169.53" font-size="15.76" textLength="19.47" lengthAdjust="spacingAndGlyphs">13</text><text x="28.71" y="238.66" font-size="15.76" textLength="19.47" lengthAdjust="spacingAndGlyphs">14</text><text x="29.17" y="307.79" font-size="15.76" textLength="19.47" lengthAdjust="spacingAndGlyphs">15</text><text x="158.76" y="13.20" font-size="17.41" textLength="80.23" lengthAdjust="spacingAndGlyphs">r (arcsec)</text><text x="146.30" y="355.40" font-size="17.41" textLength="25.76" lengthAdjust="spacingAndGlyphs">log</text><text x="172.06" y="358.00" font-size="12.18" textLength="15.05" lengthAdjust="spacingAndGlyphs">10</text><text x="187.12" y="355.40" font-size="17.41" textLength="64.09" lengthAdjust="spacingAndGlyphs"> [r (pc)]</text><g transform="translate(21.4,255.15) rotate(-90)"><text x="0.00" y="0.00" font-size="17.41" font-style="italic" textLength="10.75" lengthAdjust="spacingAndGlyphs">μ</text><text x="10.75" y="2.20" font-size="12.18" font-style="italic" textLength="8.90" lengthAdjust="spacingAndGlyphs">H</text><text x="19.65" y="0.00" font-size="17.41" textLength="109.61" lengthAdjust="spacingAndGlyphs"> (mag arcsec</text><text x="129.26" y="-6.40" font-size="12.18" textLength="17.44" lengthAdjust="spacingAndGlyphs">−2</text><text x="146.69" y="0.00" font-size="17.41" textLength="6.59" lengthAdjust="spacingAndGlyphs">)</text></g><text x="471.59" y="335.90" font-size="15.76" textLength="24.33" lengthAdjust="spacingAndGlyphs">1.0</text><text x="529.00" y="335.90" font-size="15.76" textLength="24.33" lengthAdjust="spacingAndGlyphs">1.5</text><text x="586.36" y="335.90" font-size="15.76" textLength="24.33" lengthAdjust="spacingAndGlyphs">2.0</text><text x="643.76" y="335.90" font-size="15.76" textLength="24.33" lengthAdjust="spacingAndGlyphs">2.5</text><text x="700.86" y="335.90" font-size="15.76" textLength="24.33" lengthAdjust="spacingAndGlyphs">3.0</text><text x="484.83" y="29.00" font-size="15.76" textLength="24.33" lengthAdjust="spacingAndGlyphs">0.1</text><text x="598.99" y="29.00" font-size="15.76" textLength="24.33" lengthAdjust="spacingAndGlyphs">1.0</text><text x="654.16" y="29.00" font-size="15.76" textLength="24.33" lengthAdjust="spacingAndGlyphs">3.0</text><text x="696.12" y="29.00" font-size="15.76" textLength="24.33" lengthAdjust="spacingAndGlyphs">7.0</text><text x="408.40" y="76.70" font-size="15.76" textLength="19.47" lengthAdjust="spacingAndGlyphs">12</text><text x="408.09" y="140.13" font-size="15.76" textLength="19.47" lengthAdjust="spacingAndGlyphs">13</text><text x="407.71" y="203.56" font-size="15.76" textLength="19.47" lengthAdjust="spacingAndGlyphs">14</text><text x="408.17" y="266.99" font-size="15.76" textLength="19.47" lengthAdjust="spacingAndGlyphs">15</text><text x="537.76" y="13.20" font-size="17.41" textLength="80.23" lengthAdjust="spacingAndGlyphs">r (arcsec)</text><text x="525.30" y="355.40" font-size="17.41" textLength="25.76" lengthAdjust="spacingAndGlyphs">log</text><text x="551.06" y="358.00" font-size="12.18" textLength="15.05" lengthAdjust="spacingAndGlyphs">10</text><text x="566.12" y="355.40" font-size="17.41" textLength="64.09" lengthAdjust="spacingAndGlyphs"> [r (pc)]</text><g transform="translate(400.4,255.15) rotate(-90)"><text x="0.00" y="0.00" font-size="17.41" font-style="italic" textLength="10.75" lengthAdjust="spacingAndGlyphs">μ</text><text x="10.75" y="2.20" font-size="12.18" font-style="italic" textLength="8.90" lengthAdjust="spacingAndGlyphs">H</text><text x="19.65" y="0.00" font-size="17.41" textLength="109.61" lengthAdjust="spacingAndGlyphs"> (mag arcsec</text><text x="129.26" y="-6.40" font-size="12.18" textLength="17.44" lengthAdjust="spacingAndGlyphs">−2</text><text x="146.69" y="0.00" font-size="17.41" textLength="6.59" lengthAdjust="spacingAndGlyphs">)</text></g><text x="276.42" y="60.00" font-size="14.36" textLength="34.29" lengthAdjust="spacingAndGlyphs">Dust</text><text x="518.29" y="51.60" font-size="14.36" textLength="92.00" lengthAdjust="spacingAndGlyphs">Central Hole</text><text x="640.42" y="92.90" font-size="14.36" textLength="34.29" lengthAdjust="spacingAndGlyphs">Dust</text><text x="62.22" y="177.30" font-size="14.36" textLength="75.25" lengthAdjust="spacingAndGlyphs">NGC 1380</text><text x="95.68" y="191.30" font-size="11.58" font-style="italic" textLength="8.00" lengthAdjust="spacingAndGlyphs">A</text><text x="103.69" y="192.90" font-size="8.11" font-style="italic" textLength="6.16" lengthAdjust="spacingAndGlyphs">H</text><text x="109.85" y="191.30" font-size="11.58" textLength="38.84" lengthAdjust="spacingAndGlyphs"> (mag)</text><text x="94.71" y="210.50" font-size="11.58" textLength="26.05" lengthAdjust="spacingAndGlyphs">1.50</text><text x="95.24" y="227.35" font-size="11.58" textLength="26.05" lengthAdjust="spacingAndGlyphs">0.75</text><text x="95.24" y="244.20" font-size="11.58" textLength="26.05" lengthAdjust="spacingAndGlyphs">0.31</text><text x="95.24" y="261.05" font-size="11.58" textLength="26.05" lengthAdjust="spacingAndGlyphs">0.00</text><text x="94.93" y="278.10" font-size="11.58" textLength="108.08" lengthAdjust="spacingAndGlyphs">HST F160W Image</text><text x="98.21" y="291.20" font-size="11.58" textLength="66.46" lengthAdjust="spacingAndGlyphs">(Corrected)</text><text x="94.93" y="308.00" font-size="11.58" textLength="108.08" lengthAdjust="spacingAndGlyphs">HST F160W Image</text><text x="473.93" y="278.10" font-size="11.58" textLength="108.08" lengthAdjust="spacingAndGlyphs">HST F160W Image</text><text x="477.21" y="291.20" font-size="11.58" textLength="66.46" lengthAdjust="spacingAndGlyphs">(Corrected)</text><text x="473.93" y="308.00" font-size="11.58" textLength="108.08" lengthAdjust="spacingAndGlyphs">HST F160W Image</text><text x="439.92" y="229.30" font-size="14.36" textLength="75.25" lengthAdjust="spacingAndGlyphs">NGC 6861</text><text x="474.03" y="243.80" font-size="11.58" textLength="113.14" lengthAdjust="spacingAndGlyphs">Nuker Interpolation</text><text x="474.56" y="260.90" font-size="11.58" textLength="145.12" lengthAdjust="spacingAndGlyphs">Core-Sérsic Interpolation</text></svg></body></html>
